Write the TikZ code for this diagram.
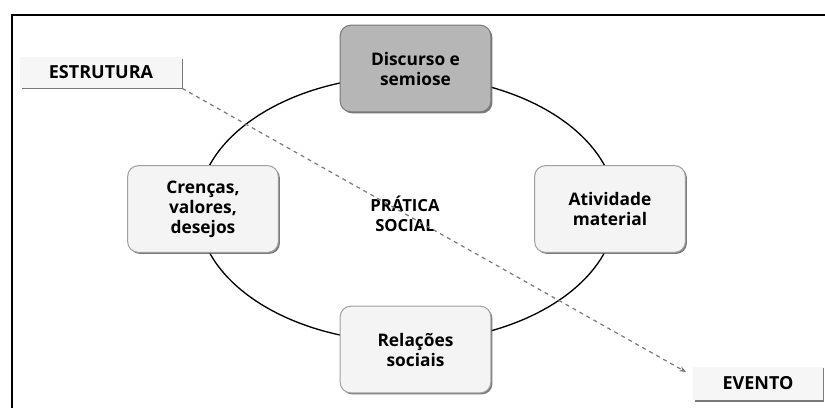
\documentclass[tikz,border=0pt]{standalone}
\usepackage{fontspec}
\setmainfont{Open Sans}
\usetikzlibrary{shadows,arrows.meta}

\tikzset{every picture/.style={line width=0.75pt}}
\tikzset{
  ciclobox/.style={rounded corners=8pt, draw={rgb,255:red,160;green,160;blue,160}, fill={rgb,255:red,244;green,244;blue,244},
    minimum width=113pt, minimum height=65pt, align=center, font=\bfseries\fontsize{13}{15}\selectfont,
    drop shadow={shadow xshift=1.2pt, shadow yshift=-1.2pt, fill={rgb,255:red,90;green,90;blue,90}, opacity=0.8}},
  rotulobox/.style={fill={rgb,255:red,246;green,246;blue,246}, inner sep=0pt, font=\bfseries\fontsize{13.5}{15}\selectfont,
    drop shadow={shadow xshift=1.2pt, shadow yshift=-1.2pt, fill={rgb,255:red,90;green,90;blue,90}, opacity=0.8}},
  tracejado/.style={dashed, color={rgb,255:red,120;green,120;blue,120}, line width=0.9pt, -{Stealth[length=5pt,width=4pt]}}
}

\begin{document}
\begin{tikzpicture}[x=0.75pt,y=0.75pt,yscale=-1,xscale=1]
\useasboundingbox (0,0) rectangle (825,408);

%Frame
\draw [line width=1.3pt] (12,408) -- (12,15) -- (825,15) ;
%Shape: Ellipse
\draw [line width=1pt] (407,209) ellipse [x radius=209, y radius=133] ;

% Ciclo
\node (discurso) [ciclobox, fill={rgb,255:red,182;green,182;blue,182}, draw={rgb,255:red,120;green,120;blue,120}] at (415.5,68.5) {Discurso e\\semiose};
\node (crencas) [ciclobox] at (203,209) {Crenças,\\valores,\\desejos};
\node (atividade) [ciclobox] at (610,209) {Atividade\\material};
\node (relacoes) [ciclobox] at (415.5,349.5) {Relações\\sociais};
% Text Node
\node (pratica) [align=center, font=\bfseries\fontsize{12.5}{15}\selectfont] at (405,214) {PRÁTICA\\SOCIAL};

% Estrutura / evento
\node (estrutura) [rotulobox, minimum width=121pt, minimum height=23pt] at (101,72.5) {ESTRUTURA};
\node (evento) [rotulobox, minimum width=97pt, minimum height=25pt] at (758,383.5) {EVENTO};
\coordinate (eventoPonta) at (686,372);
%Dashed arrow
\draw [tracejado] (estrutura.south east) -- (eventoPonta) ;

\end{tikzpicture}
\end{document}
